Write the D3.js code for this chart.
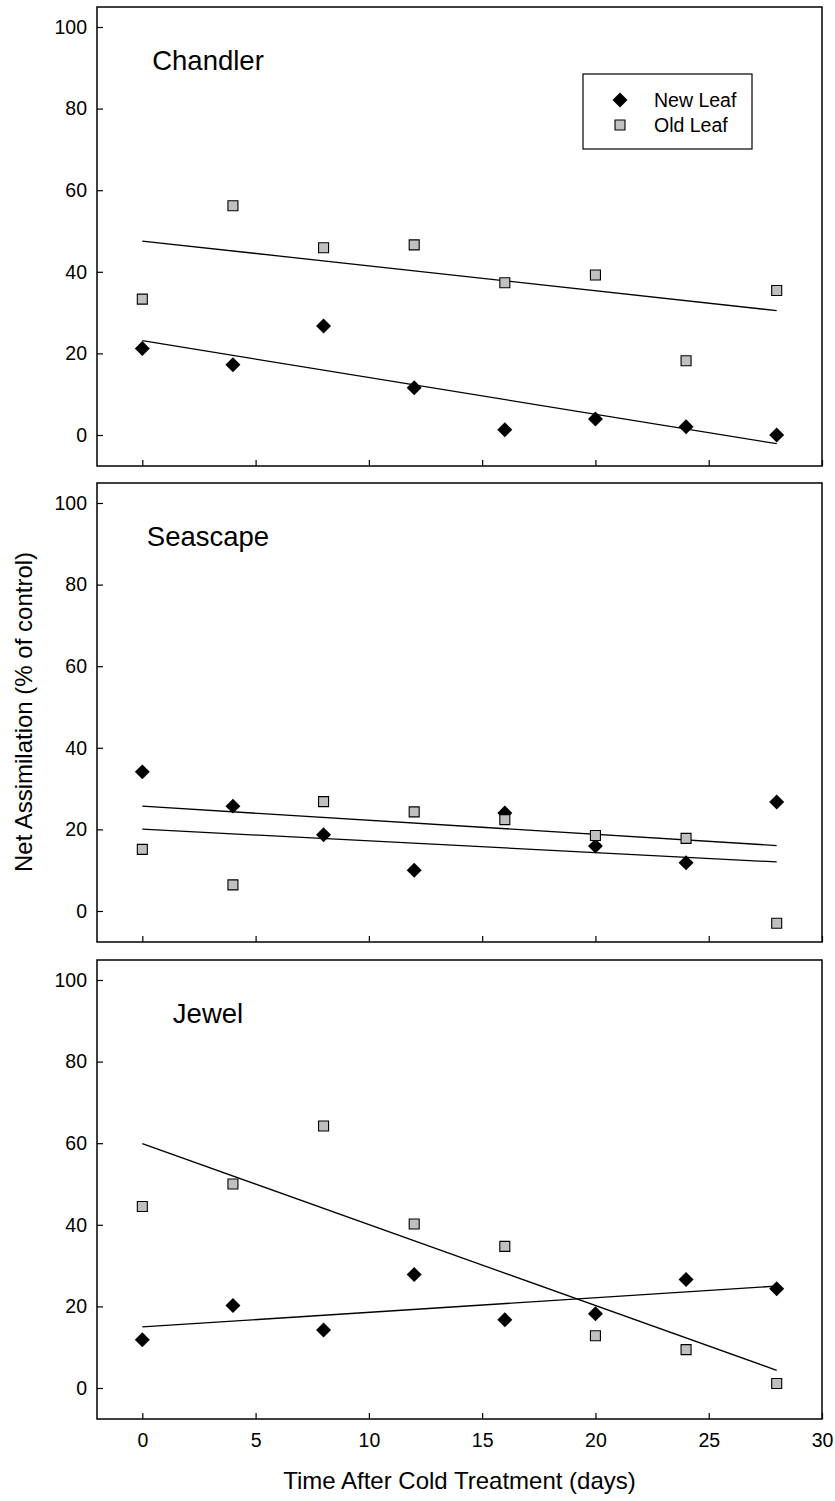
<!DOCTYPE html>
<html>
<head>
<meta charset="utf-8">
<script src="https://cdn.jsdelivr.net/npm/d3@7"></script>
<style>
  body { margin: 0; background: #fff; }
  svg { display: block; font-family: "Liberation Sans", Arial, sans-serif; }
</style>
</head>
<body>
<svg id="container"></svg>
<script>
/* DATA */
const days = [0, 4, 8, 12, 16, 20, 24, 28];
const cultivars = ["Chandler", "Seascape", "Jewel"];
const chandlerNew = [21.2, 17.2, 26.7, 11.6, 1.3, 3.9, 2.0, 0.0];
const chandlerOld = [33.3, 56.2, 45.9, 46.6, 37.3, 39.2, 18.2, 35.4];
const seascapeNew = [34.1, 25.7, 18.7, 10.0, 24.0, 15.9, 11.8, 26.7];
const seascapeOld = [15.1, 6.4, 26.8, 24.3, 22.4, 18.5, 17.8, -3.0];
const jewelNew = [11.8, 20.2, 14.2, 27.8, 16.7, 18.2, 26.6, 24.3];
const jewelOld = [44.5, 50.0, 64.2, 40.2, 34.7, 12.8, 9.4, 1.1];
const newLeaf = [chandlerNew, seascapeNew, jewelNew];
const oldLeaf = [chandlerOld, seascapeOld, jewelOld];
const seriesNames = ["New Leaf", "Old Leaf"];
const xTicks = [0, 5, 10, 15, 20, 25, 30];
const yTicks = [0, 20, 40, 60, 80, 100];

/* CONSTANTS AND GLOBALS */
const width = 835,
  height = 1501,
  left = 97,
  right = 822,
  panelTops = [7, 483, 960],
  panelHeight = 459,
  grey = "#c0c0c0";

const svg = d3.select("#container")
  .attr("width", width)
  .attr("height", height);

// shared x scale, days
const xScale = d3.scaleLinear()
  .domain([-2, 30])
  .range([left, right]);

const diamond = d3.symbol(d3.symbolSquare, 112)();
const square = d3.symbol(d3.symbolSquare, 100)();

// least squares line through the points
function fit(xs, ys) {
  const mx = d3.mean(xs), my = d3.mean(ys);
  const sxy = d3.sum(xs, (v, i) => (v - mx) * (ys[i] - my));
  const sxx = d3.sum(xs, v => (v - mx) ** 2);
  const b = sxy / sxx;
  return x => my + b * (x - mx);
}

cultivars.forEach((name, i) => {
  const top = panelTops[i];
  const bottom = top + panelHeight;
  const last = i === cultivars.length - 1;

  const yScale = d3.scaleLinear()
    .domain([-7.6, 104.9])
    .range([bottom, top]);

  const g = svg.append("g");

  /* AXES */
  const yAxis = d3.axisLeft(yScale)
    .tickValues(yTicks)
    .tickSizeInner(-6)
    .tickSizeOuter(0)
    .tickPadding(10);
  g.append("g")
    .attr("transform", `translate(${left},0)`)
    .call(yAxis)
    .call(a => a.select(".domain").remove())
    .call(a => a.selectAll("text").attr("font-size", 19.5).attr("fill", "#000").style("font-family", "inherit"))
    .call(a => a.selectAll("line").attr("stroke", "#000").attr("stroke-width", 1.2));

  const xAxis = d3.axisBottom(xScale)
    .tickValues(xTicks)
    .tickSizeInner(-6)
    .tickSizeOuter(0)
    .tickPadding(14)
    .tickFormat(last ? d3.format("d") : "");
  g.append("g")
    .attr("transform", `translate(0,${bottom})`)
    .call(xAxis)
    .call(a => a.select(".domain").remove())
    .call(a => a.selectAll("text").attr("font-size", 19.5).attr("fill", "#000").style("font-family", "inherit"))
    .call(a => a.selectAll("line").attr("stroke", "#000").attr("stroke-width", 1.2));

  // frame
  g.append("rect")
    .attr("x", left)
    .attr("y", top)
    .attr("width", right - left)
    .attr("height", panelHeight)
    .attr("fill", "none")
    .attr("stroke", "#000")
    .attr("stroke-width", 1.5);

  // cultivar name
  g.append("text")
    .attr("x", 208)
    .attr("y", top + 63)
    .attr("text-anchor", "middle")
    .attr("font-size", 27.5)
    .text(name);

  /* MARKS */
  [newLeaf[i], oldLeaf[i]].forEach(vals => {
    const f = fit(days, vals);
    const ends = [days[0], days[days.length - 1]];
    g.append("path")
      .attr("d", d3.line().x(d => xScale(d)).y(d => yScale(f(d)))(ends))
      .attr("fill", "none")
      .attr("stroke", "#000")
      .attr("stroke-width", 1.3);
  });

  g.selectAll(".new")
    .data(days.map((d, j) => [d, newLeaf[i][j]]))
    .join("path")
    .attr("class", "new")
    .attr("d", diamond)
    .attr("transform", d => `translate(${xScale(d[0])},${yScale(d[1])}) rotate(45)`)
    .attr("fill", "#000");

  g.selectAll(".old")
    .data(days.map((d, j) => [d, oldLeaf[i][j]]))
    .join("path")
    .attr("class", "old")
    .attr("d", square)
    .attr("transform", d => `translate(${xScale(d[0])},${yScale(d[1])})`)
    .attr("fill", grey)
    .attr("stroke", "#000")
    .attr("stroke-width", 1.1);

  /* LEGEND */
  if (i === 0) {
    const lg = g.append("g");
    lg.append("rect")
      .attr("x", 583)
      .attr("y", 74)
      .attr("width", 169)
      .attr("height", 75)
      .attr("fill", "#fff")
      .attr("stroke", "#000")
      .attr("stroke-width", 1.2);
    seriesNames.forEach((s, k) => {
      lg.append("path")
        .attr("d", k === 0 ? diamond : square)
        .attr("transform", `translate(620,${100 + k * 25})` + (k === 0 ? " rotate(45)" : ""))
        .attr("fill", k === 0 ? "#000" : grey)
        .attr("stroke", k === 0 ? "none" : "#000")
        .attr("stroke-width", 1.1);
      lg.append("text")
        .attr("x", 654)
        .attr("y", 107 + k * 25)
        .attr("font-size", 19.5)
        .text(s);
    });
  }
});

/* AXIS TITLES */
svg.append("text")
  .attr("x", (left + right) / 2)
  .attr("y", 1489)
  .attr("text-anchor", "middle")
  .attr("font-size", 24)
  .text("Time After Cold Treatment (days)");

svg.append("text")
  .attr("transform", "translate(32,712) rotate(-90)")
  .attr("text-anchor", "middle")
  .attr("font-size", 24)
  .text("Net Assimilation (% of control)");
</script>
</body>
</html>
